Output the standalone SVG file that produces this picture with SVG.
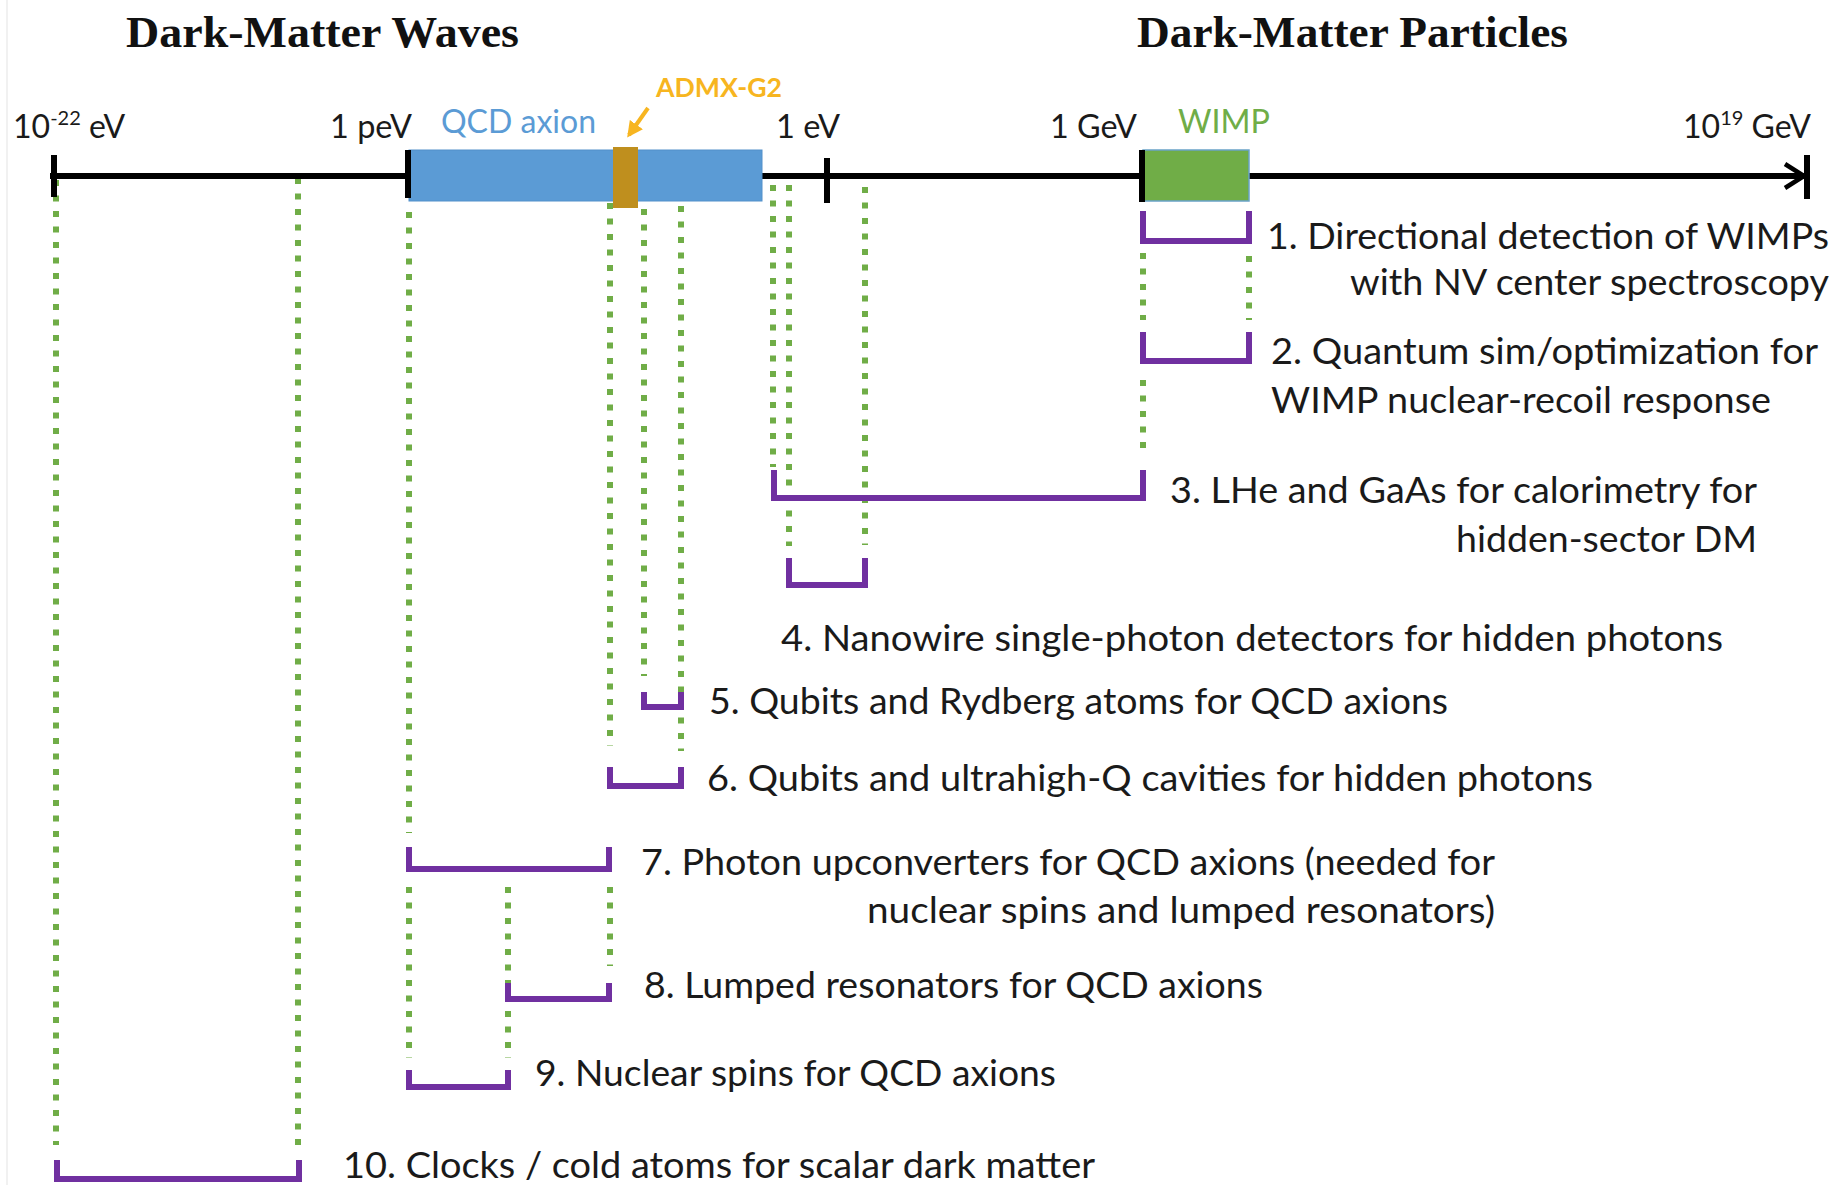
<svg xmlns="http://www.w3.org/2000/svg" width="1841" height="1185" viewBox="0 0 1841 1185">
<defs>
<style>
.title{font-family:"Liberation Serif","Times New Roman",serif;font-weight:bold;font-size:45px;fill:#111;}
.lbl{font-family:Lato,"Open Sans","Liberation Sans",sans-serif;font-size:37px;fill:#1a1a1a;}
.tick{font-family:Lato,"Open Sans","Liberation Sans",sans-serif;font-size:32px;fill:#1a1a1a;}
.sup{font-size:20px;}
.br{fill:none;stroke:#7030A0;stroke-width:6;stroke-linejoin:miter;}
.dot{fill:none;stroke:#70AD47;stroke-width:6;stroke-dasharray:6 9.5;}
.tk{stroke:#000;stroke-width:6;}
</style>
<marker id="ah" viewBox="0 0 10 10" refX="8" refY="5" markerWidth="4" markerHeight="4" orient="auto">
<path d="M0,0 L10,5 L0,10 z" fill="#F7B520"/>
</marker>
</defs>
<rect width="1841" height="1185" fill="#fff"/>
<line x1="7" y1="0" x2="7" y2="1185" stroke="#ececec" stroke-width="1.5"/>

<g id="titles">
<text class="title" x="126" y="47" textLength="393" lengthAdjust="spacingAndGlyphs">Dark-Matter Waves</text>
<text class="title" x="1137" y="47" textLength="431" lengthAdjust="spacingAndGlyphs">Dark-Matter Particles</text>
</g>

<g id="connectors">
<line class="dot" x1="56" y1="180" x2="56" y2="1145"/>
<line class="dot" x1="298" y1="178" x2="298" y2="1145"/>
<line class="dot" x1="409" y1="212" x2="409" y2="833"/>
<line class="dot" x1="409" y1="887" x2="409" y2="1058"/>
<line class="dot" x1="508" y1="887" x2="508" y2="1058"/>
<line class="dot" x1="610" y1="203" x2="610" y2="746"/>
<line class="dot" x1="610" y1="887" x2="610" y2="966"/>
<line class="dot" x1="644" y1="209" x2="644" y2="676"/>
<line class="dot" x1="681" y1="206" x2="681" y2="751"/>
<line class="dot" x1="773" y1="185" x2="773" y2="467"/>
<line class="dot" x1="789" y1="185" x2="789" y2="546"/>
<line class="dot" x1="865" y1="187" x2="865" y2="545"/>
<line class="dot" x1="1143" y1="253" x2="1143" y2="320"/>
<line class="dot" x1="1143" y1="380" x2="1143" y2="456"/>
<line class="dot" x1="1249" y1="256" x2="1249" y2="320"/>
</g>

<g id="axis">
<line x1="50" y1="176" x2="1804" y2="176" stroke="#000" stroke-width="6"/>
<path d="M1785,164 L1804,176 L1785,188" fill="none" stroke="#000" stroke-width="4.5"/>
<line class="tk" x1="1807" y1="155" x2="1807" y2="199"/>
</g>

<g id="qcd-axion-band">
<rect x="409" y="150" width="353" height="51" fill="#5B9BD5" stroke="#5290CA" stroke-width="1"/>
<rect x="613" y="147" width="25" height="61" fill="#BF8F1E"/>
</g>
<g id="wimp-band">
<rect x="1143" y="150" width="106" height="51" fill="#70AD47" stroke="#6AA3C8" stroke-width="1.5"/>
</g>

<g id="ticks">
<line class="tk" x1="54" y1="155" x2="54" y2="197"/>
<line class="tk" x1="408" y1="150" x2="408" y2="198"/>
<line class="tk" x1="827" y1="158" x2="827" y2="203"/>
<line class="tk" x1="1142" y1="150" x2="1142" y2="202"/>
</g>

<g id="scale-labels">
<text class="tick" x="13" y="138">10<tspan class="sup" dy="-13">-22</tspan><tspan dy="13"> eV</tspan></text>
<text class="tick" x="330" y="138" textLength="82" lengthAdjust="spacingAndGlyphs">1 peV</text>
<text class="tick" x="776" y="138" textLength="64" lengthAdjust="spacingAndGlyphs">1 eV</text>
<text class="tick" x="1050" y="138" textLength="87" lengthAdjust="spacingAndGlyphs">1 GeV</text>
<text class="tick" x="1683" y="138">10<tspan class="sup" dy="-13">19</tspan><tspan dy="13"> GeV</tspan></text>
<text class="tick" x="441" y="133" style="fill:#5B9BD5" textLength="155" lengthAdjust="spacingAndGlyphs">QCD axion</text>
<text class="tick" x="1178" y="133" style="fill:#70AD47" textLength="92" lengthAdjust="spacingAndGlyphs">WIMP</text>
</g>

<g id="admx-g2">
<text x="656" y="97" style="font-family:Lato,'Open Sans',sans-serif;font-weight:bold;font-size:26px;fill:#F7B520" textLength="126" lengthAdjust="spacingAndGlyphs">ADMX-G2</text>
<line x1="648" y1="108" x2="629" y2="135" stroke="#F7B520" stroke-width="4" marker-end="url(#ah)"/>
</g>

<g id="item1">
<path class="br" d="M1143,211 V241 H1249 V211"/>
<text class="lbl" x="1267" y="249" textLength="562" lengthAdjust="spacingAndGlyphs">1. Directional detection of WIMPs</text>
<text class="lbl" x="1350" y="295" textLength="479" lengthAdjust="spacingAndGlyphs">with NV center spectroscopy</text>
</g>
<g id="item2">
<path class="br" d="M1143,332 V361 H1249 V332"/>
<text class="lbl" x="1271" y="364" textLength="547" lengthAdjust="spacingAndGlyphs">2. Quantum sim/optimization for</text>
<text class="lbl" x="1271" y="413" textLength="500" lengthAdjust="spacingAndGlyphs">WIMP nuclear-recoil response</text>
</g>
<g id="item3">
<path class="br" d="M774,470 V498 H1143 V470"/>
<text class="lbl" x="1170" y="503" textLength="587" lengthAdjust="spacingAndGlyphs">3. LHe and GaAs for calorimetry for</text>
<text class="lbl" x="1456" y="552" textLength="301" lengthAdjust="spacingAndGlyphs">hidden-sector DM</text>
</g>
<g id="item4">
<path class="br" d="M789,558 V585 H865 V558"/>
<text class="lbl" x="781" y="651" textLength="942" lengthAdjust="spacingAndGlyphs">4. Nanowire single-photon detectors for hidden photons</text>
</g>
<g id="item5">
<path class="br" d="M644,692 V707 H681 V692"/>
<text class="lbl" x="709" y="714" textLength="739" lengthAdjust="spacingAndGlyphs">5. Qubits and Rydberg atoms for QCD axions</text>
</g>
<g id="item6">
<path class="br" d="M610,767 V786 H681 V767"/>
<text class="lbl" x="707" y="791" textLength="886" lengthAdjust="spacingAndGlyphs">6. Qubits and ultrahigh-Q cavities for hidden photons</text>
</g>
<g id="item7">
<path class="br" d="M409,847 V869 H609 V847"/>
<text class="lbl" x="641" y="875" textLength="854" lengthAdjust="spacingAndGlyphs">7. Photon upconverters for QCD axions (needed for</text>
<text class="lbl" x="867" y="923" textLength="628" lengthAdjust="spacingAndGlyphs">nuclear spins and lumped resonators)</text>
</g>
<g id="item8">
<path class="br" d="M508,983 V999 H609 V983"/>
<text class="lbl" x="644" y="998" textLength="619" lengthAdjust="spacingAndGlyphs">8. Lumped resonators for QCD axions</text>
</g>
<g id="item9">
<path class="br" d="M409,1070 V1087 H508 V1070"/>
<text class="lbl" x="535" y="1086" textLength="521" lengthAdjust="spacingAndGlyphs">9. Nuclear spins for QCD axions</text>
</g>
<g id="item10">
<path class="br" d="M57,1160 V1179 H299 V1160"/>
<text class="lbl" x="343" y="1178" textLength="752" lengthAdjust="spacingAndGlyphs">10. Clocks / cold atoms for scalar dark matter</text>
</g>
</svg>
